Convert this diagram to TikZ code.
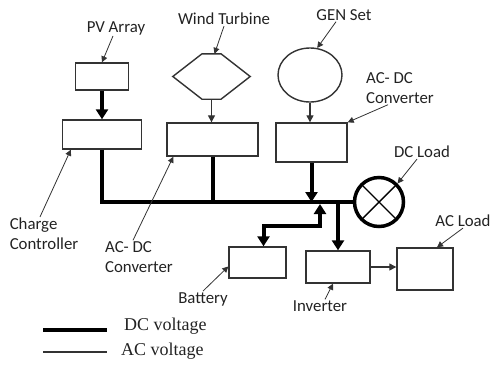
\documentclass[tikz,border=0pt]{standalone}
\usepackage{fontspec}
\setmainfont{Carlito}
\newfontfamily\legendfont{Liberation Serif}
\usetikzlibrary{arrows.meta,calc,shapes.geometric}
\definecolor{edge}{HTML}{333333}
\definecolor{ink}{HTML}{222222}
\tikzset{
  box/.style={draw=edge,line width=1.4pt,inner sep=0pt},
  dcline/.style={line width=4pt,black},
  dcarrow/.style={line width=4pt,black,-{Triangle[length=10pt,width=12pt]}},
  acarrow/.style={line width=1.3pt,edge,-{Triangle[length=7pt,width=7pt]}},
  ptr/.style={line width=0.8pt,edge,-{Triangle[length=6pt,width=6pt]}},
  lbl/.style={font=\fontsize{16.8}{20}\selectfont,text=ink,align=left,inner sep=1pt}
}

\begin{document}
\begin{tikzpicture}[x=1pt,y=-1pt]
  \useasboundingbox (0,0) rectangle (492,365);

  % sources and converters
  \node[box,minimum width=53pt,minimum height=27pt] (pv) at (102,76.5) {};
  \node[box,minimum width=79pt,minimum height=29pt] (cc) at (102,134.5) {};
  \node[minimum width=77pt,minimum height=45pt,inner sep=0pt] (wind) at (211.5,76.5) {};
  \draw[edge,line width=1.4pt] (wind.west) -- ([xshift=-9.5pt]wind.north) -- ([xshift=9.5pt]wind.north)
    -- (wind.east) -- ([xshift=9.5pt]wind.south) -- ([xshift=-9.5pt]wind.south) -- cycle;
  \node[box,ellipse,minimum width=64pt,minimum height=54pt] (gen) at (310,75) {};
  \node[box,minimum width=91pt,minimum height=33pt] (acdcw) at (212.5,139.5) {};
  \node[box,minimum width=71pt,minimum height=39pt] (acdcg) at (311.5,142.5) {};

  \draw[dcarrow] (pv.south) -- (cc.north);
  \draw[acarrow] (wind.south) -- (wind.south |- acdcw.north);
  \draw[acarrow] (gen.south) -- (gen.south |- acdcg.north);

  % DC bus
  \node[circle,draw=black,line width=3.5pt,minimum size=49pt,inner sep=0pt] (dcload) at (379,202) {};
  \draw[line width=1.4pt,shorten <=2pt,shorten >=2pt] (dcload.north west) -- (dcload.south east);
  \draw[line width=1.4pt,shorten <=2pt,shorten >=2pt] (dcload.north east) -- (dcload.south west);
  \draw[dcline] (cc.south) |- (dcload.west);
  \draw[dcline] (acdcw.south) -- (acdcw.south |- dcload.west);
  \draw[dcarrow] (acdcg.south) -- (acdcg.south |- dcload.west);

  % storage and loads
  \node[box,minimum width=57pt,minimum height=31pt] (batt) at (257.5,262.5) {};
  \node[box,minimum width=64pt,minimum height=32pt] (inv) at (338,267) {};
  \node[box,minimum width=56pt,minimum height=42pt] (acload) at (425,269) {};
  \coordinate (bustap) at (320,204);
  \draw[dcarrow,{Triangle[length=10pt,width=12pt]}-{Triangle[length=10pt,width=12pt]}]
    ([xshift=6pt]batt.north) -- ++(0,-20) -| (bustap);
  \draw[dcarrow] (inv.north |- dcload.west) -- (inv.north);
  \draw[acarrow] (inv.east) -- (inv.east -| acload.west);

  % labels
  \node[lbl] (pvlbl) at (116,28) {PV Array};
  \draw[ptr] ([xshift=-3pt]pvlbl.south) -- (pv.north);
  \node[lbl] (windlbl) at (224,19) {Wind Turbine};
  \draw[ptr] (windlbl.south) -- ([xshift=3pt]wind.north);
  \node[lbl] (genlbl) at (344,15) {GEN Set};
  \draw[ptr] ([xshift=-8pt]genlbl.south) -- (gen.75);
  \node[lbl] (acdcglbl) at (400,88) {AC- DC\\Converter};
  \draw[ptr] ([xshift=-12pt]acdcglbl.south) -- (acdcg.north east);
  \node[lbl] (dcloadlbl) at (422,152) {DC Load};
  \draw[ptr] ([xshift=-5pt]dcloadlbl.south) -- (dcload.north east);
  \node[lbl] (cclbl) at (44,234) {Charge\\Controller};
  \draw[ptr] ([xshift=-4pt]cclbl.north) -- ([xshift=9pt]cc.south west);
  \node[lbl] (acdcwlbl) at (139,257) {AC- DC\\Converter};
  \draw[ptr] ([xshift=-6pt]acdcwlbl.north) -- ([xshift=7pt]acdcw.south west);
  \node[lbl] (battlbl) at (203,299) {Battery};
  \draw[ptr] (battlbl.north) -- ([yshift=-4pt]batt.west);
  \node[lbl] (invlbl) at (320,306) {Inverter};
  \draw[ptr] ([xshift=5pt]invlbl.north) -- ([xshift=-5pt]inv.south);
  \node[lbl] (aclbl) at (463,221) {AC Load};
  \draw[ptr] (aclbl.south) -- ([xshift=12pt]acload.north);

  % legend
  \coordinate (dcA) at (43,330);
  \coordinate (dcB) at (107,330);
  \coordinate (acA) at (43,352);
  \coordinate (acB) at (107,352);
  \draw[dcline] (dcA) -- (dcB);
  \draw[line width=1.3pt,edge] (acA) -- (acB);
  \node[anchor=west,inner sep=1pt,font=\legendfont\fontsize{18}{20}\selectfont,text=ink] (dclbl) at (123,326) {DC voltage};
  \node[anchor=west,inner sep=1pt,font=\legendfont\fontsize{18}{20}\selectfont,text=ink] (aclbl2) at (120,351) {AC voltage};
\end{tikzpicture}
\end{document}
